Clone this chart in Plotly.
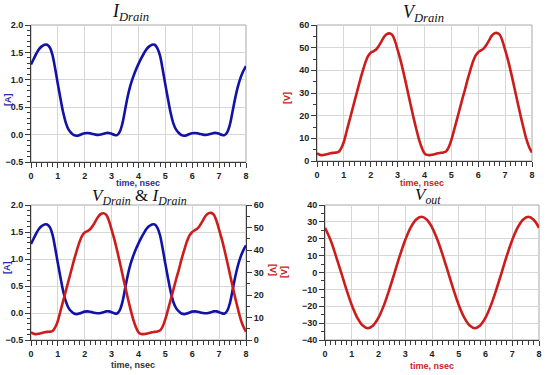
import plotly.graph_objects as go

# ---------------- data ----------------
TIME_FINE = [0.0, 0.1, 0.2, 0.3, 0.4, 0.5, 0.6, 0.7, 0.8, 0.9,
             1.0, 1.1, 1.2, 1.3, 1.4, 1.5, 1.6, 1.7, 1.8, 1.9,
             2.0, 2.1, 2.2, 2.3, 2.4, 2.5, 2.6, 2.7, 2.8, 2.9,
             3.0, 3.1, 3.2, 3.3, 3.4, 3.5, 3.6, 3.7, 3.8, 3.9,
             4.0, 4.1, 4.2, 4.3, 4.4, 4.5, 4.6, 4.7, 4.8, 4.9,
             5.0, 5.1, 5.2, 5.3, 5.4, 5.5, 5.6, 5.7, 5.8, 5.9,
             6.0, 6.1, 6.2, 6.3, 6.4, 6.5, 6.6, 6.7, 6.8, 6.9,
             7.0, 7.1, 7.2, 7.3, 7.4, 7.5, 7.6, 7.7, 7.8, 7.9,
             8.0]

I_DRAIN = [1.28, 1.38, 1.48, 1.56, 1.61, 1.64, 1.64, 1.59, 1.45, 1.20,
           0.92, 0.65, 0.40, 0.21, 0.09, 0.03, -0.01, -0.02, -0.01, 0.01,
           0.025, 0.03, 0.025, 0.01, 0.0, -0.005, 0.0, 0.015, 0.03, 0.03,
           0.015, -0.005, -0.01, 0.05, 0.20, 0.45, 0.70, 0.90, 1.05, 1.18,
           1.29, 1.39, 1.48, 1.56, 1.61, 1.64, 1.64, 1.58, 1.44, 1.19,
           0.91, 0.64, 0.39, 0.20, 0.09, 0.03, -0.01, -0.02, -0.01, 0.01,
           0.025, 0.03, 0.025, 0.01, 0.0, -0.005, 0.0, 0.015, 0.03, 0.03,
           0.015, -0.005, -0.01, 0.04, 0.18, 0.42, 0.67, 0.88, 1.04, 1.16,
           1.25]

V_DRAIN = [3.4, 2.8, 2.6, 2.8, 3.1, 3.4, 3.6, 3.7, 4.0, 5.6,
           8.5, 13.0, 17.5, 22.0, 26.5, 31.0, 35.5, 39.6, 43.4, 46.3,
           47.8, 48.4, 49.2, 50.8, 52.8, 54.8, 56.0, 56.3, 55.6, 53.0,
           49.0, 44.8, 40.0, 34.8, 29.3, 24.0, 18.7, 13.8, 9.3, 5.8,
           3.4, 2.7, 2.6, 2.8, 3.1, 3.4, 3.6, 3.8, 4.2, 6.0,
           9.3, 13.6, 18.0, 22.5, 27.0, 31.2, 35.8, 39.9, 43.7, 46.5,
           48.0, 48.8, 49.6, 51.2, 53.2, 55.2, 56.3, 56.5, 55.7, 53.0,
           49.0, 44.8, 40.0, 34.8, 29.3, 24.0, 18.7, 13.8, 9.3, 6.0,
           3.7]

TIME_COARSE = [0.0, 0.2, 0.4, 0.6, 0.8, 1.0, 1.2, 1.4, 1.6, 1.8,
               2.0, 2.2, 2.4, 2.6, 2.8, 3.0, 3.2, 3.4, 3.6, 3.8,
               4.0, 4.2, 4.4, 4.6, 4.8, 5.0, 5.2, 5.4, 5.6, 5.8,
               6.0, 6.2, 6.4, 6.6, 6.8, 7.0, 7.2, 7.4, 7.6, 7.8,
               8.0]

V_OUT = [26.5, 19.5, 10.2, 0.2, -10.0, -19.3, -26.6, -31.3, -33.0, -31.4,
         -26.8, -19.5, -10.3, -0.2, 10.1, 19.3, 26.6, 31.3, 33.0, 31.4,
         26.8, 19.5, 10.3, 0.2, -10.0, -19.3, -26.6, -31.3, -33.0, -31.4,
         -26.8, -19.5, -10.3, -0.2, 10.1, 19.3, 26.6, 31.3, 33.0, 31.3,
         26.5]

X_TICKS = [0, 1, 2, 3, 4, 5, 6, 7, 8]
A_TICKS = [-0.5, 0.0, 0.5, 1.0, 1.5, 2.0]
VD_TICKS = [0, 10, 20, 30, 40, 50, 60]
VO_TICKS = [-40, -30, -20, -10, 0, 10, 20, 30, 40]

# ---------------- styling ----------------
W, H = 550, 375
BLUE = "#1212a6"
RED = "#cc1c1c"
BLUE_T = "#2b2ba8"
RED_T = "#cc2424"
GRID = "#d6d6d6"
AXLINE = "#3a3a3a"
BORDER = "#a8a8a8"
TICKFONT = dict(family="Liberation Sans, Arial, sans-serif", size=9, color="#222222", weight="bold")
TITLEFONT = "Liberation Serif, DejaVu Serif, serif"


def px_x(a, b):
    return [a / W, b / W]


def px_y(top, bottom):
    return [1 - bottom / H, 1 - top / H]


def lin_ticks(vals):
    return dict(tickmode="linear", tick0=vals[0], dtick=vals[1] - vals[0],
                range=[vals[0], vals[-1]])


def xaxis(dom, anchor):
    d = dict(domain=dom, anchor=anchor,
             showgrid=True, gridcolor=GRID, gridwidth=1, zeroline=False,
             showline=True, linecolor=AXLINE, linewidth=1,
             ticks="outside", ticklen=5, tickcolor=AXLINE, tickwidth=1,
             minor=dict(dtick=0.2, tick0=0, ticks="outside", ticklen=4,
                        tickcolor=AXLINE, tickwidth=1, showgrid=False),
             tickfont=TICKFONT, fixedrange=True)
    d.update(lin_ticks(X_TICKS))
    return d


def yaxis(dom, anchor, vals, fmt, minor_dt, side="left"):
    d = dict(domain=dom, anchor=anchor, tickformat=fmt,
             side=side, showgrid=True, gridcolor=GRID, gridwidth=1, zeroline=False,
             showline=True, linecolor=AXLINE, linewidth=1,
             ticks="outside", ticklen=5, tickcolor=AXLINE, tickwidth=1,
             minor=dict(dtick=minor_dt, tick0=0, ticks="outside", ticklen=3,
                        tickcolor=AXLINE, tickwidth=1, showgrid=False),
             tickfont=TICKFONT, fixedrange=True)
    d.update(lin_ticks(vals))
    return d


fig = go.Figure()

line_kw = dict(mode="lines", line_shape="spline", showlegend=False, hoverinfo="skip")

fig.add_trace(go.Scatter(x=TIME_FINE, y=I_DRAIN, xaxis="x", yaxis="y",
                         line=dict(color=BLUE, width=2.6), **line_kw))
fig.add_trace(go.Scatter(x=TIME_FINE, y=V_DRAIN, xaxis="x2", yaxis="y2",
                         line=dict(color=RED, width=2.6), **line_kw))
fig.add_trace(go.Scatter(x=TIME_FINE, y=I_DRAIN, xaxis="x3", yaxis="y3",
                         line=dict(color=BLUE, width=2.6), **line_kw))
fig.add_trace(go.Scatter(x=TIME_FINE, y=V_DRAIN, xaxis="x3", yaxis="y5",
                         line=dict(color=RED, width=2.6), **line_kw))
fig.add_trace(go.Scatter(x=TIME_COARSE, y=V_OUT, xaxis="x4", yaxis="y4",
                         line=dict(color=RED, width=2.6), **line_kw))

d1x, d1y = px_x(31, 246), px_y(25, 162)
d2x, d2y = px_x(317, 532), px_y(25, 161)
d3x, d3y = px_x(31, 246), px_y(205, 340)
d4x, d4y = px_x(325, 539), px_y(205, 340)

y5 = yaxis(d3y, "x3", VD_TICKS, "d", 5, side="right")
y5.update(overlaying="y3", showgrid=False)

fig.update_layout(
    width=W, height=H, margin=dict(l=0, r=0, t=0, b=0, autoexpand=False),
    paper_bgcolor="white", plot_bgcolor="white",
    xaxis=xaxis(d1x, "y"),
    yaxis=yaxis(d1y, "x", A_TICKS, ".1f", 0.1),
    xaxis2=xaxis(d2x, "y2"),
    yaxis2=yaxis(d2y, "x2", VD_TICKS, "d", 5),
    xaxis3=xaxis(d3x, "y3"),
    yaxis3=yaxis(d3y, "x3", A_TICKS, ".1f", 0.1),
    xaxis4=xaxis(d4x, "y4"),
    yaxis4=yaxis(d4y, "x4", VO_TICKS, "d", 5),
    yaxis5=y5,
)

for xr, yr in [("x", "y"), ("x2", "y2"), ("x3", "y3"), ("x4", "y4")]:
    fig.add_shape(type="rect", xref=f"{xr} domain", yref=f"{yr} domain",
                  x0=0, x1=1, y0=0, y1=1, line=dict(color=BORDER, width=1),
                  layer="below")


def ann(text, x, y, color, size, family, angle=0, bold=False):
    fig.add_annotation(text=text, x=x / W, y=1 - y / H, xref="paper", yref="paper",
                       showarrow=False, textangle=angle, xanchor="center", yanchor="middle",
                       font=dict(family=family, size=size, color=color,
                                 weight="bold" if bold else "normal"))


SANS = "Liberation Sans, Arial, sans-serif"
ann("<i>I</i><sub><i>Drain</i></sub>", 130, 13, "#111111", 18, TITLEFONT)
ann("<i>V</i><sub><i>Drain</i></sub>", 423, 14, "#111111", 18, TITLEFONT)
ann("<i>V</i><sub><i>Drain</i></sub> &amp; <i>I</i><sub><i>Drain</i></sub>", 140, 197, "#111111", 17, TITLEFONT)
ann("<i>V</i><sub><i>out</i></sub>", 428, 196, "#111111", 17, TITLEFONT)

ann("time, nsec", 138, 183, BLUE_T, 9, SANS, bold=True)
ann("time, nsec", 422, 183, RED_T, 9, SANS, bold=True)
ann("time, nsec", 133, 365, "#333333", 9, SANS, bold=True)
ann("time, nsec", 432, 366, RED_T, 9, SANS, bold=True)
ann("[A]", 8, 100, BLUE_T, 9, SANS, angle=-90, bold=True)
ann("[V]", 287, 98, RED_T, 9, SANS, angle=-90, bold=True)
ann("[A]", 7, 268, BLUE_T, 9, SANS, angle=-90, bold=True)
ann("[V]", 273, 270, RED_T, 9, SANS, angle=90, bold=True)
ann("[V]", 284, 272, RED_T, 9, SANS, angle=-90, bold=True)

fig.write_html("out.html", config={"displayModeBar": False},
               post_script="document.body.style.margin='0px';document.body.style.padding='0px';")
